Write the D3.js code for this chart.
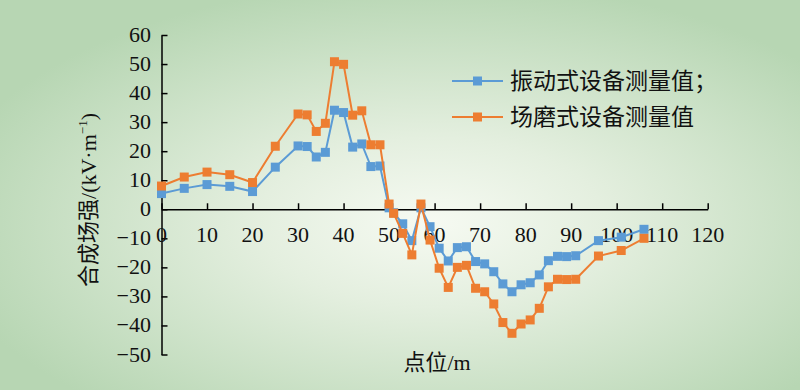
<!DOCTYPE html>
<html>
<head>
<meta charset="utf-8">
<script src="https://cdn.jsdelivr.net/npm/d3@7"></script>
<style>
  html, body { margin: 0; padding: 0; }
  svg { display: block; }
  .num { font-family: "Liberation Serif", "DejaVu Serif", serif; }
  .cjk { font-family: "Liberation Serif", "Noto Sans CJK SC", serif; }
</style>
</head>
<body>
<div id="container"></div>
<script>
// point positions along the line (m)
const positions = [0, 5, 10, 15, 20, 25, 30, 32, 34, 36, 38, 40, 42, 44, 46, 48, 50, 51, 53, 55, 57, 59,
    61, 63, 65, 67, 69, 71, 73, 75, 77, 79, 81, 83, 85, 87, 89, 91, 96, 101, 106];

// vibrating type instrument
const vibValues = [5.4, 7.2, 8.5, 7.9, 6.1, 14.5, 21.8, 21.6, 18, 19.6, 34.1, 33.3, 21.4, 22.5, 14.7, 14.9, 0.5, -1.2, -5, -10.8, 0.5, -6,
    -13.4, -17.8, -13.2, -12.9, -18, -18.8, -21.5, -25.7, -28.4, -26, -25.3, -22.6, -17.7, -16.2, -16.3, -16, -10.8, -9.6, -6.9];

// field mill type instrument
const millValues = [8.0, 11.1, 12.8, 11.9, 9.2, 21.7, 32.8, 32.5, 26.8, 29.6, 50.8, 49.9, 32.4, 33.9, 22.2, 22.2, 1.8, -1.4, -8.3, -15.7, 1.8, -10.6,
    -20.3, -26.9, -20, -19.3, -27.2, -28.4, -32.6, -39, -42.7, -39.5, -38.1, -34.1, -26.7, -24.1, -24.2, -24.1, -16.1, -14.2, -10];

const seriesNames = ["振动式设备测量值；", "场磨式设备测量值"];
const xTicks = [0, 10, 20, 30, 40, 50, 60, 70, 80, 90, 100, 110, 120];
const yTicks = [60, 50, 40, 30, 20, 10, 0, -10, -20, -30, -40, -50];

const width = 800;
const height = 390;

const svg = d3.select("#container")
    .append("svg")
    .attr("width", width)
    .attr("height", height);

// background with light centre
const grad = svg.append("defs").append("radialGradient")
    .attr("id", "bg")
    .attr("cx", "54%").attr("cy", "57%").attr("r", "62%");
grad.append("stop").attr("offset", "0%").attr("stop-color", "#f6faf2");
grad.append("stop").attr("offset", "35%").attr("stop-color", "#e4efdf");
grad.append("stop").attr("offset", "100%").attr("stop-color", "#b7d6b3");
svg.append("rect")
    .attr("width", width).attr("height", height)
    .attr("fill", "url(#bg)");

const scaleX = d3.scaleLinear().domain([0, 120]).range([161.5, 707.7]);
const scaleY = d3.scaleLinear().domain([-50, 60]).range([354.5, 35]);

// y axis, ticks pointing inwards
const yAxis = svg.append("g")
    .attr("transform", "translate(" + scaleX(0) + ",0)")
    .call(d3.axisRight(scaleY).tickValues(yTicks).tickSize(6).tickSizeOuter(0).tickFormat(""));
yAxis.select(".domain").attr("stroke", "#000").attr("stroke-width", 1.5);
yAxis.selectAll(".tick line").attr("stroke", "#000").attr("stroke-width", 1.5);

svg.append("g").selectAll("text")
    .data(yTicks)
    .join("text")
    .attr("class", "num")
    .attr("x", 151)
    .attr("y", d => scaleY(d) + 7)
    .attr("text-anchor", "end")
    .attr("font-size", 22)
    .attr("fill", "#111")
    .text(d => d < 0 ? "\u2212" + Math.abs(d) : d);

// x axis at zero, ticks pointing up
const xAxis = svg.append("g")
    .attr("transform", "translate(0," + scaleY(0) + ")")
    .call(d3.axisTop(scaleX).tickValues(xTicks).tickSize(6).tickSizeOuter(0).tickFormat(""));
xAxis.select(".domain").attr("stroke", "#000").attr("stroke-width", 1.5);
xAxis.selectAll(".tick line").attr("stroke", "#000").attr("stroke-width", 1.5);

svg.append("g").selectAll("text")
    .data(xTicks)
    .join("text")
    .attr("class", "num")
    .attr("x", d => scaleX(d))
    .attr("y", scaleY(0) + 33)
    .attr("text-anchor", "middle")
    .attr("font-size", 22)
    .attr("fill", "#111")
    .text(d => d);

// axis titles
const yTitle = svg.append("text")
    .attr("class", "cjk")
    .attr("transform", "translate(96,200) rotate(-90)")
    .attr("text-anchor", "middle")
    .attr("font-size", 22)
    .attr("fill", "#111");
yTitle.append("tspan").text("合成场强/(kV·m");
yTitle.append("tspan").attr("font-size", 13).attr("dy", -9).text("−1");
yTitle.append("tspan").attr("dy", 9).text(")");

svg.append("text")
    .attr("class", "cjk")
    .attr("x", 437)
    .attr("y", 370)
    .attr("text-anchor", "middle")
    .attr("font-size", 22)
    .attr("fill", "#111")
    .text("点位/m");

const series = [
    {name: seriesNames[0], values: vibValues, color: "#5b9bd5"},
    {name: seriesNames[1], values: millValues, color: "#ed7d31"}
];

const line = d3.line()
    .x(d => scaleX(d[0]))
    .y(d => scaleY(d[1]));

const ms = 9;
for(const s of series){
    const pts = positions.map((p, i) => [p, s.values[i]]);
    svg.append("path")
        .datum(pts)
        .attr("fill", "none")
        .attr("stroke", s.color)
        .attr("stroke-width", 2)
        .attr("d", line);
    svg.append("g").selectAll("rect")
        .data(pts)
        .join("rect")
        .attr("x", d => scaleX(d[0]) - ms / 2)
        .attr("y", d => scaleY(d[1]) - ms / 2)
        .attr("width", ms)
        .attr("height", ms)
        .attr("fill", s.color);
}

// legend
const legend = svg.append("g").attr("transform", "translate(452,81)");
series.forEach((s, i) => {
    const g = legend.append("g").attr("transform", "translate(0," + (i * 36) + ")");
    g.append("line")
        .attr("x1", 0).attr("x2", 51)
        .attr("stroke", s.color).attr("stroke-width", 2);
    g.append("rect")
        .attr("x", 21).attr("y", -ms / 2)
        .attr("width", ms).attr("height", ms)
        .attr("fill", s.color);
    g.append("text")
        .attr("class", "cjk")
        .attr("x", 58).attr("y", 8)
        .attr("font-size", 23)
        .attr("fill", "#111")
        .text(s.name);
});
</script>
</body>
</html>
